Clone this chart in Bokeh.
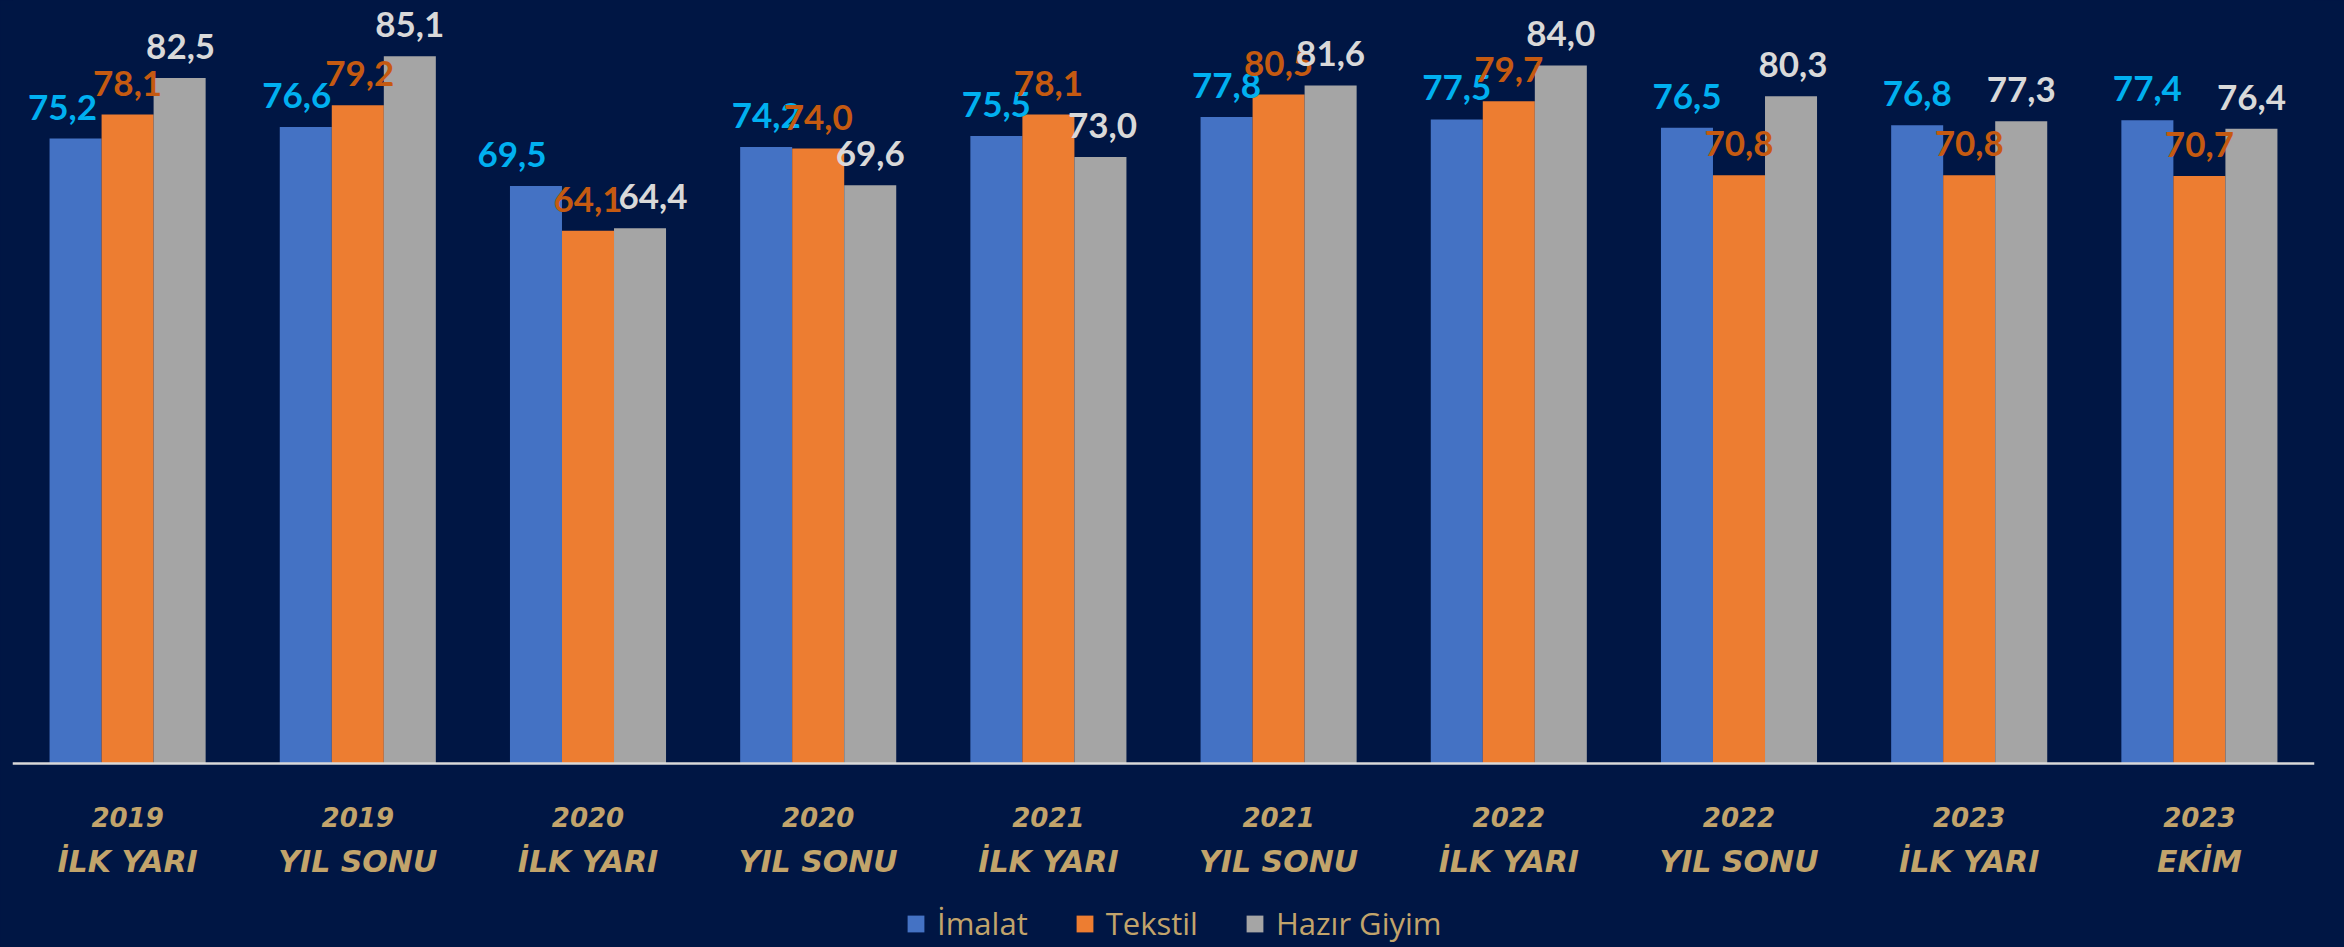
from bokeh.plotting import figure
from bokeh.models import (ColumnDataSource, FactorRange, Range1d, LabelSet, Legend,
                          LegendItem, Span)
from bokeh.transform import dodge
from bokeh.core.properties import value
from bokeh.embed import file_html
from bokeh.resources import INLINE

# ---------------- data ----------------
years = ["2019", "2019", "2020", "2020", "2021", "2021", "2022", "2022", "2023", "2023"]
periods = ["İLK YARI", "YIL SONU", "İLK YARI", "YIL SONU", "İLK YARI", "YIL SONU",
           "İLK YARI", "YIL SONU", "İLK YARI", "EKİM"]
imalat = [75.2, 76.6, 69.5, 74.2, 75.5, 77.8, 77.5, 76.5, 76.8, 77.4]
tekstil = [78.1, 79.2, 64.1, 74.0, 78.1, 80.5, 79.7, 70.8, 70.8, 70.7]
hazir_giyim = [82.5, 85.1, 64.4, 69.6, 73.0, 81.6, 84.0, 80.3, 77.3, 76.4]
series_names = ["İmalat", "Tekstil", "Hazır Giyim"]

# ---------------- styles ----------------
BG = "#001644"
TAN = "#C2A46B"
BAR_COLORS = ["#4472C4", "#ED7D31", "#A5A5A5"]
LBL_COLORS = ["#00B0F0", "#C55A11", "#D9D9D9"]
LBL_FONT = value("Lato")
AX_FONT = value("DejaVu Sans")
# manual nudges (px) of some value labels, as in the original
imalat_dx = [-13, -9, -24, 0, 0, 0, 0, 0, 0, 0]
tekstil_dx = [0, 2, 0, 0, 0, 0, 0, 0, 0, 0]
hazir_dx = [1, 0, 13, 0, 2, 0, 0, 2, 0, 0]

cats = [f"{y} {p}" for y, p in zip(years, periods)]

def fmt(v):
    return f"{v:.1f}".replace(".", ",")

src = ColumnDataSource(dict(
    cat=cats, year=years, period=periods,
    imalat=imalat, tekstil=tekstil, hazir=hazir_giyim,
    imalat_l=[fmt(v) for v in imalat],
    tekstil_l=[fmt(v) for v in tekstil],
    hazir_l=[fmt(v) for v in hazir_giyim],
    imalat_dx=imalat_dx, tekstil_dx=tekstil_dx, hazir_dx=hazir_dx,
))

p = figure(width=2344, height=947, x_range=FactorRange(factors=cats, range_padding=0),
           y_range=Range1d(-22.14, 91.82), output_backend="svg", toolbar_location=None,
           x_axis_location=None, y_axis_location=None,
           background_fill_color=BG, border_fill_color=BG, outline_line_color=None,
           min_border_left=12, min_border_right=30, min_border_top=0, min_border_bottom=0)
p.xgrid.visible = False
p.ygrid.visible = False

W = 0.226
offsets = [-W, 0.0, W]
fields = ["imalat", "tekstil", "hazir"]
renderers = []
for f, off, col in zip(fields, offsets, BAR_COLORS):
    r = p.vbar(x=dodge("cat", off, range=p.x_range), top=f, bottom=0, width=W, source=src,
               fill_color=col, line_color=None)
    renderers.append(r)

# category axis line
p.add_layout(Span(location=0, dimension="width", line_color="#D9D9D9", line_width=2.5))

# value labels
for f, off, col in zip(fields, offsets, LBL_COLORS):
    p.add_layout(LabelSet(x=dodge("cat", off, range=p.x_range), y=f, text=f + "_l", source=src,
                          text_align="center", text_baseline="alphabetic",
                          x_offset=f + "_dx", y_offset=19, text_color=col,
                          text_font=LBL_FONT, text_font_size="35px", text_font_style="bold"))

# category labels (two lines)
p.add_layout(LabelSet(x="cat", y=-7.58, text="year", source=src,
                      text_align="center", text_baseline="alphabetic", text_color=TAN,
                      text_font=AX_FONT, text_font_size="26px", text_font_style="bold italic"))
p.add_layout(LabelSet(x="cat", y=-13.0, text="period", source=src,
                      text_align="center", text_baseline="alphabetic", text_color=TAN,
                      text_font=AX_FONT, text_font_size="30px", text_font_style="bold italic"))

legend = Legend(items=[LegendItem(label=n, renderers=[r]) for n, r in zip(series_names, renderers)],
                orientation="horizontal", location=(893, 3),
                background_fill_alpha=0, border_line_color=None,
                label_text_color=TAN, label_text_font="Open Sans", label_text_font_size="31px",
                glyph_width=21, glyph_height=21, label_standoff=11, spacing=46,
                padding=0, margin=0)
p.add_layout(legend, "center")

open("out.html", "w").write(file_html(p, INLINE).replace("<body>", '<body style="background:#001644">'))
